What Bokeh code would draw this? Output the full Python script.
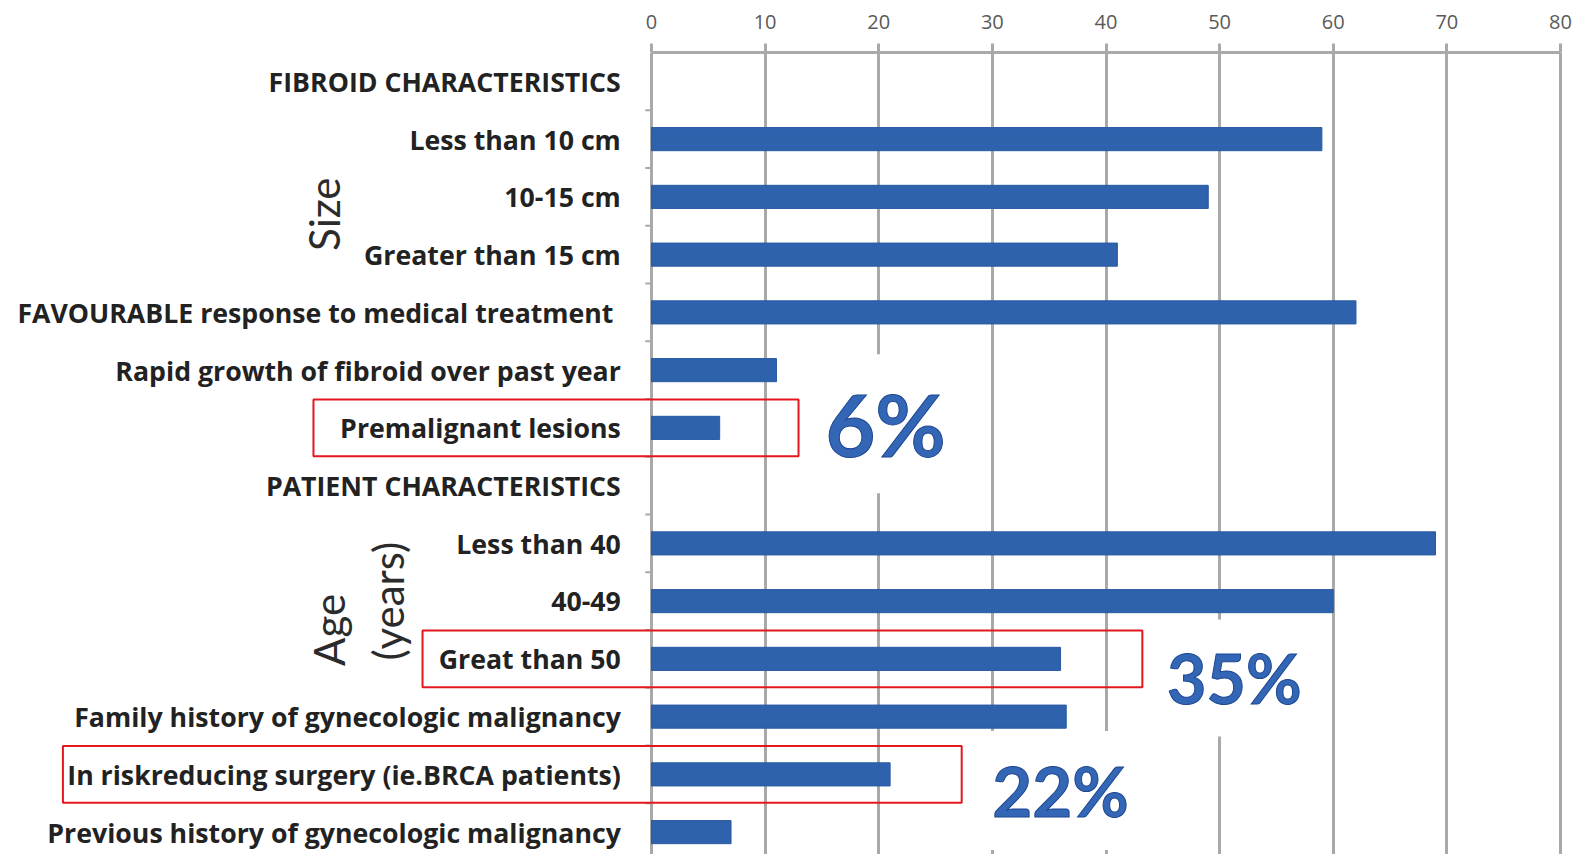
from bokeh.plotting import figure
from bokeh.models import Range1d, FixedTicker, Label
from bokeh.core.properties import value
from bokeh.embed import file_html
from bokeh.resources import INLINE
import math

# ---------------- data ----------------
categories = [
    "FIBROID CHARACTERISTICS",
    "Less than 10 cm",
    "10-15 cm",
    "Greater than 15 cm",
    "FAVOURABLE response to medical treatment",
    "Rapid growth of fibroid over past year",
    "Premalignant lesions",
    "PATIENT CHARACTERISTICS",
    "Less than 40",
    "40-49",
    "Great than 50",
    "Family history of gynecologic malignancy",
    "In riskreducing surgery (ie.BRCA patients)",
    "Previous history of gynecologic malignancy",
]
values = [None, 59, 49, 41, 62, 11, 6, None, 69, 60, 36, 36.5, 21, 7]
x_ticks = [0, 10, 20, 30, 40, 50, 60, 70, 80]

group_labels = ["Size", "Age", "(years)"]
highlight_rows = ["Premalignant lesions", "Great than 50",
                  "In riskreducing surgery (ie.BRCA patients)"]
highlight_texts = ["6%", "35%", "22%"]

# ---------------- layout ----------------
W, H = 1583, 854
PX_PER_UNIT = 11.3625
X0_PX = 651                      # pixel of x=0 inside the figure
FRAME_TOP = 52
ROW_PX = 57.75
y_top = -0.5
y_bot = y_top + (H - FRAME_TOP) / ROW_PX
x_start = -X0_PX / PX_PER_UNIT
x_end = x_start + W / PX_PER_UNIT

p = figure(width=W, height=H, output_backend="svg", toolbar_location=None,
           x_range=Range1d(x_start, x_end), y_range=Range1d(y_bot, y_top),
           x_axis_location="above", y_axis_location=None,
           min_border_left=0, min_border_right=0, min_border_bottom=0,
           min_border_top=FRAME_TOP)
p.outline_line_color = None
p.background_fill_color = "white"
p.border_fill_color = "white"

GRAY = "#a9a9a9"
ax = p.xaxis[0]
ax.ticker = FixedTicker(ticks=x_ticks)
ax.bounds = (x_ticks[0], x_ticks[-1])
ax.axis_line_color = GRAY
ax.axis_line_width = 3
ax.major_tick_line_color = GRAY
ax.major_tick_line_width = 3
ax.major_tick_out = 9
ax.major_tick_in = 0
ax.minor_tick_line_color = None
ax.major_label_standoff = 15
ax.major_label_text_font = "Open Sans"
ax.major_label_text_font_size = "20px"
ax.major_label_text_color = "#5a5a5a"

p.xgrid.ticker = FixedTicker(ticks=x_ticks)
p.xgrid.grid_line_color = GRAY
p.xgrid.grid_line_width = 3
p.ygrid.grid_line_color = None

rows = list(range(len(categories)))

# small tick marks on the category axis
bounds_y = [r + 0.5 for r in rows[:-1]]
p.segment(x0=[-0.55] * len(bounds_y), x1=[0] * len(bounds_y), y0=bounds_y, y1=bounds_y,
          line_color=GRAY, line_width=2)

# bars
bar_rows = [r for r, v in zip(rows, values) if v is not None]
bar_vals = [v for v in values if v is not None]
p.hbar(y=bar_rows, left=0, right=bar_vals, height=0.4,
       fill_color="#2e62ad", line_color="#2a5aa0", line_width=1)

# category labels
lab_x = []
for c in categories:
    lab_x.append(-3.35 if c.startswith("FAVOURABLE") else -2.7)
p.text(x=lab_x, y=rows, text=categories, text_align="right", text_baseline="middle",
       text_font=value("Open Sans"), text_font_style="bold", text_font_size="26.7px",
       text_color="#222222")

# rotated group labels
p.text(x=[-28.8, -28.4, -23.2], y=[2.3, 9.5, 9.0], text=group_labels,
       angle=math.pi / 2, text_align="center", text_baseline="middle",
       text_font=value("Lato"), text_font_size="42px", text_color="#2b2b2b")

# red highlight boxes
box_left = [-29.75, -20.15, -51.8]
box_right = [12.94, 43.2, 27.3]
hrow = [categories.index(h) for h in highlight_rows]
p.quad(left=box_left, right=box_right,
       top=[r - 0.49 for r in hrow], bottom=[r + 0.49 for r in hrow],
       fill_color=None, line_color="#e3171e", line_width=2)

# large percentage callouts
pct_x = [20.6, 51.3, 36.0]
pct_y = [5.93, 10.33, 12.28]
pct_size = ["86px", "68px", "69px"]
for t, x, y, s in zip(highlight_texts, pct_x, pct_y, pct_size):
    p.add_layout(Label(x=x, y=y, text=t, text_align="center", text_baseline="middle",
                       text_font="Lato", text_font_style="bold", text_font_size=s,
                       text_color="#3466b6", text_outline_color="#1b4690",
                       background_fill_color="white", padding=18))

open("out.html", "w").write(file_html(p, INLINE))
